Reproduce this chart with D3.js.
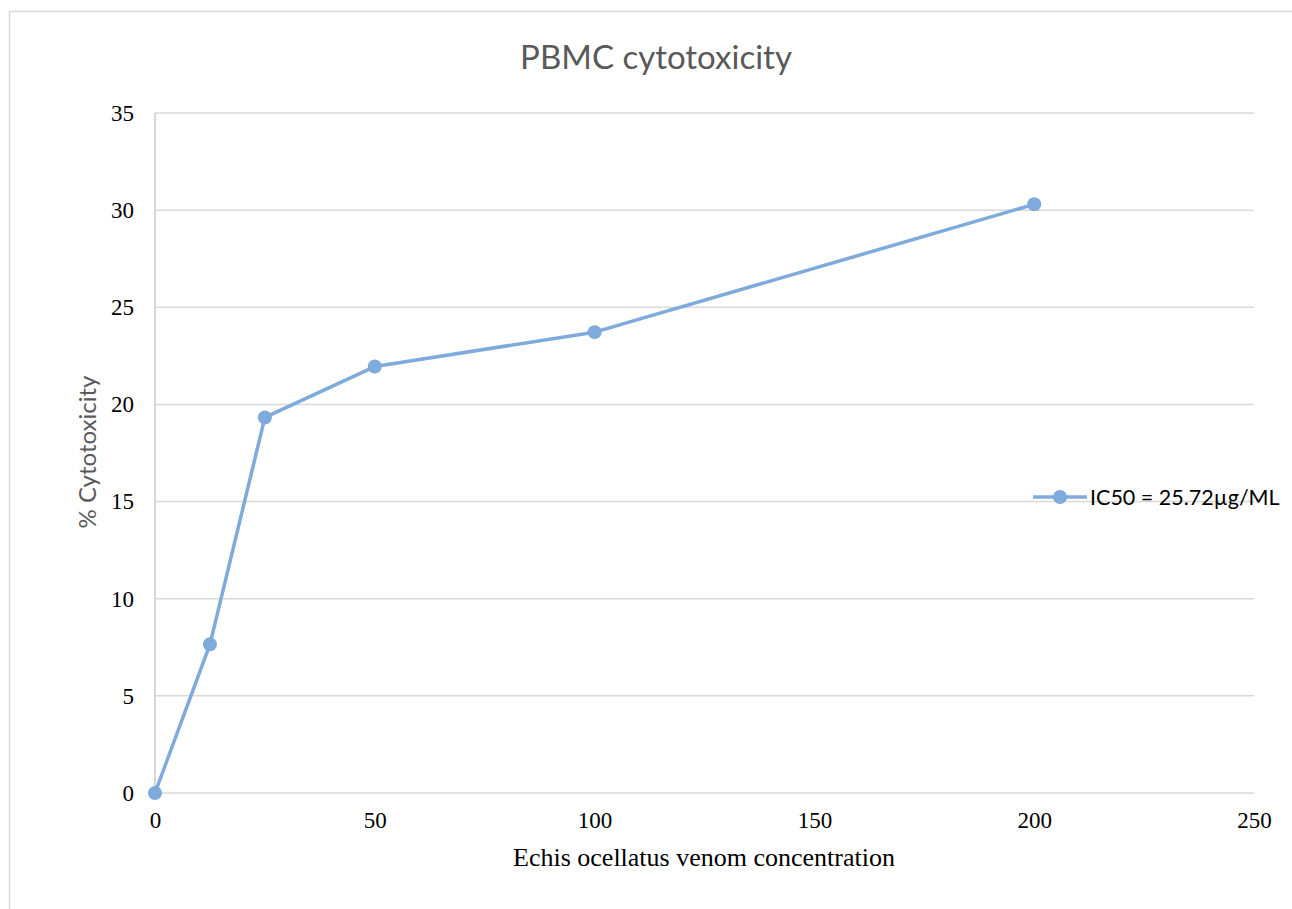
<!DOCTYPE html>
<html>
<head>
<meta charset="utf-8">
<script src="https://cdnjs.cloudflare.com/ajax/libs/d3/7.8.5/d3.min.js"></script>
<style>
  html, body { margin: 0; padding: 0; background: #fff; }
  svg { display: block; }
</style>
</head>
<body>
<svg id="chart" width="1292" height="909"></svg>
<script>
// Venom concentration (x) and % cytotoxicity (y)
const concentrations = [0, 12.5, 25, 50, 100, 200];
const cytotoxicity = [0, 7.65, 19.33, 21.95, 23.72, 30.3];
const xTicks = [0, 50, 100, 150, 200, 250];
const yTicks = [0, 5, 10, 15, 20, 25, 30, 35];
const chartTitle = "PBMC cytotoxicity";
const xTitle = "Echis ocellatus venom concentration";
const yTitle = "% Cytotoxicity";
const seriesName = "IC50 = 25.72µg/ML";

const svg = d3.select("#chart");
const lineColor = "#7eaadc";
const gridColor = "#d9d9d9";
const sans = "Lato, 'Open Sans', sans-serif";
const serif = "'Liberation Serif', 'Times New Roman', serif";

// outer chart frame
svg.append("rect")
  .attr("x", 9.5).attr("y", 11.5)
  .attr("width", 1400).attr("height", 1000)
  .attr("fill", "none").attr("stroke", "#d9d9d9").attr("stroke-width", 1.5);

const plot = { left: 155, right: 1254, top: 113, bottom: 793 };
const x = d3.scaleLinear().domain([0, 250]).range([plot.left, plot.right]);
const y = d3.scaleLinear().domain([0, 35]).range([plot.bottom, plot.top]);

// horizontal gridlines
svg.append("g")
  .selectAll("line")
  .data(yTicks)
  .join("line")
  .attr("x1", plot.left).attr("x2", plot.right)
  .attr("y1", d => y(d)).attr("y2", d => y(d))
  .attr("stroke", gridColor).attr("stroke-width", 1.5);

// vertical axis line
svg.append("line")
  .attr("x1", plot.left).attr("x2", plot.left)
  .attr("y1", plot.top).attr("y2", plot.bottom)
  .attr("stroke", "#c8c8c8").attr("stroke-width", 1.5);

// y tick labels
const yAxis = d3.axisLeft(y).tickValues(yTicks).tickSize(0).tickPadding(21);
const gy = svg.append("g").attr("transform", `translate(${plot.left},0)`).call(yAxis);
gy.select(".domain").remove();
gy.selectAll("text").attr("font-family", serif).attr("font-size", 23).attr("fill", "#000");

// x tick labels
const xAxis = d3.axisBottom(x).tickValues(xTicks).tickSize(0).tickPadding(19);
const gx = svg.append("g").attr("transform", `translate(0,${plot.bottom})`).call(xAxis);
gx.select(".domain").remove();
gx.selectAll("text").attr("font-family", serif).attr("font-size", 23).attr("fill", "#000");

// titles
svg.append("text")
  .attr("x", 656).attr("y", 69)
  .attr("text-anchor", "middle")
  .attr("font-family", sans).attr("font-size", 33)
  .attr("fill", "#595959")
  .text(chartTitle);

svg.append("text")
  .attr("x", 704).attr("y", 866)
  .attr("text-anchor", "middle")
  .attr("font-family", serif).attr("font-size", 26)
  .attr("fill", "#000")
  .text(xTitle);

svg.append("text")
  .attr("transform", `translate(96,452) rotate(-90)`)
  .attr("text-anchor", "middle")
  .attr("font-family", sans).attr("font-size", 24)
  .attr("fill", "#595959")
  .text(yTitle);

// data series
const data = concentrations.map((c, i) => ({ c, v: cytotoxicity[i] }));
svg.append("path")
  .datum(data)
  .attr("fill", "none")
  .attr("stroke", lineColor)
  .attr("stroke-width", 3.5)
  .attr("stroke-linejoin", "round")
  .attr("d", d3.line().x(d => x(d.c)).y(d => y(d.v)));

svg.append("g")
  .selectAll("circle")
  .data(data)
  .join("circle")
  .attr("cx", d => x(d.c)).attr("cy", d => y(d.v))
  .attr("r", 7)
  .attr("fill", lineColor);

// legend
const lg = svg.append("g").attr("transform", "translate(1033,497)");
lg.append("line").attr("x1", 0).attr("x2", 54).attr("y1", 0).attr("y2", 0)
  .attr("stroke", lineColor).attr("stroke-width", 3.5);
lg.append("circle").attr("cx", 27).attr("cy", 0).attr("r", 7).attr("fill", lineColor);
lg.append("text").attr("x", 57).attr("y", 8)
  .attr("font-family", sans).attr("font-size", 21.5).attr("fill", "#000")
  .text(seriesName);
</script>
</body>
</html>
